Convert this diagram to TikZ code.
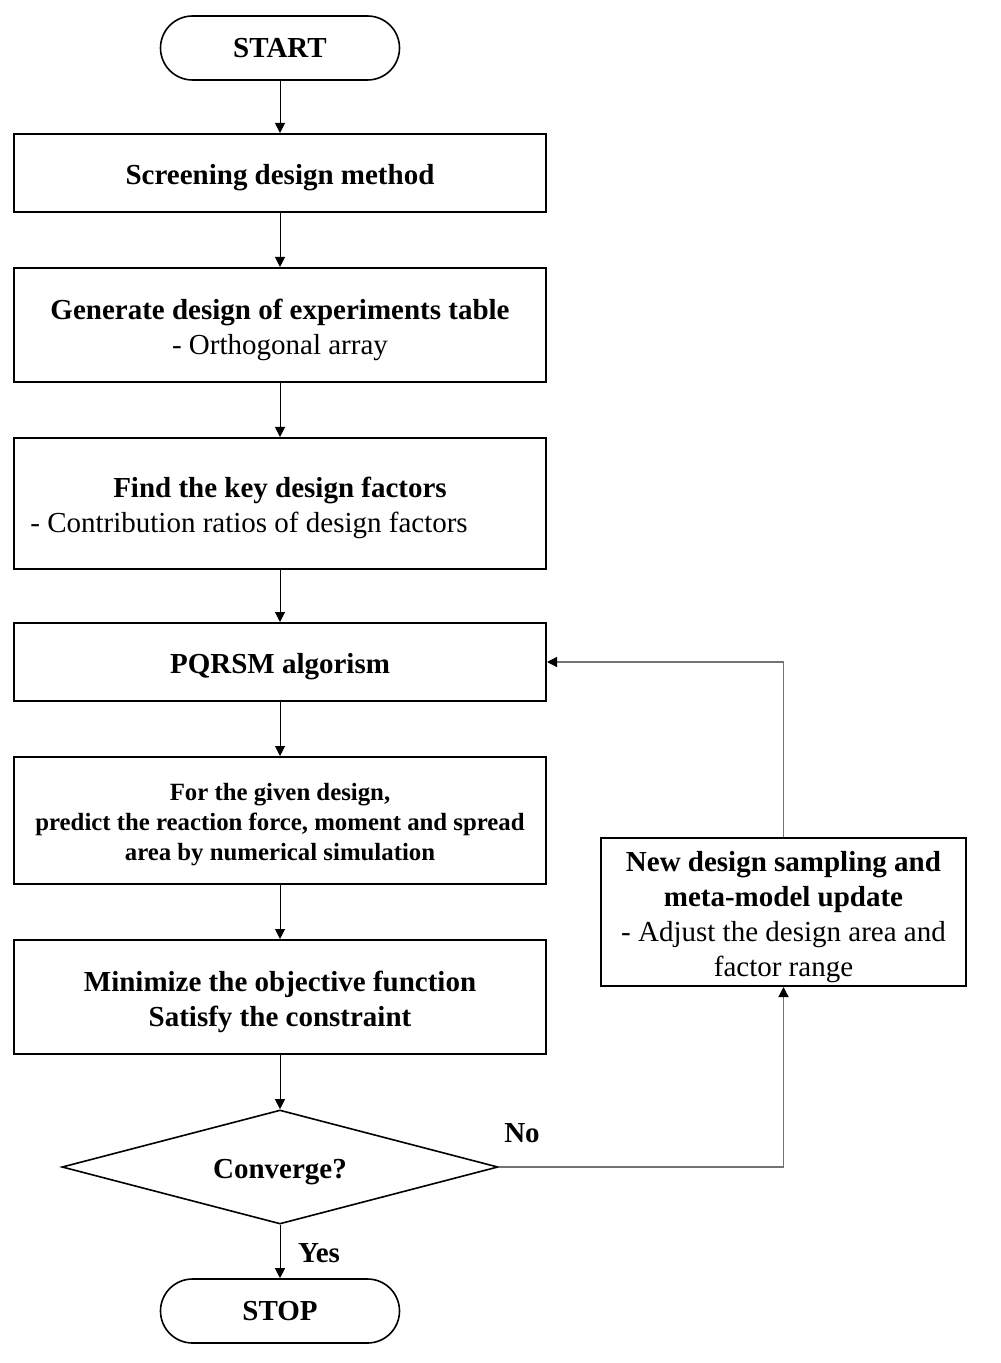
\documentclass[tikz,border=0pt]{standalone}
\usepackage{fontspec}
\setmainfont{Liberation Serif}
\usetikzlibrary{arrows.meta,shapes.geometric}
\begin{document}
\begin{tikzpicture}[x=0.5pt,y=-0.5pt,
  every node/.style={font=\fontsize{14.5pt}{17.5pt}\selectfont, inner sep=0pt},
  box/.style={draw, line width=1pt, minimum width=266pt},
  txt/.style={align=center, yshift=-2.5pt},
  term/.style={draw, line width=0.8pt, rounded corners=16pt, minimum width=119.5pt, minimum height=32pt, font=\fontsize{14.5pt}{17.5pt}\selectfont\bfseries},
  dia/.style={draw, diamond, aspect=3.82, line width=0.8pt, minimum width=218pt, minimum height=57pt},
  arr/.style={line width=0.5pt, -{Triangle[length=5pt,width=5pt]}},
  back/.style={line width=0.6pt, draw=black!55, -{Triangle[length=5pt,width=5pt,fill=black,color=black]}},
  lbl/.style={font=\fontsize{14.5pt}{17.5pt}\selectfont\bfseries}
]
\useasboundingbox (0,0) rectangle (1000,1363);

\node[term] (start) at (280,48) {START};

\node[box, minimum height=39pt] (b1) at (280,173) {};
\node[txt] (t1) at (b1.center) {\textbf{Screening design method}};

\node[box, minimum height=57pt] (b2) at (280,325) {};
\node[txt] (t2) at (b2.center) {\textbf{Generate design of experiments table}\\- Orthogonal array};

\node[box, minimum height=65.5pt] (b3) at (280,503.5) {};
\node[lbl, yshift=-1.5pt] (b3a) at (280,487) {Find the key design factors};
\node[anchor=west, yshift=-1.5pt] (b3b) at (30,522) {- Contribution ratios of design factors};

\node[box, minimum height=39pt] (b4) at (280,662) {};
\node[txt] (t4) at (b4.center) {\textbf{PQRSM algorism}};

\node[box, minimum height=63.5pt] (b5) at (280,820.5) {};
\node[txt, font=\fontsize{12.4pt}{15pt}\selectfont\bfseries] (t5) at ([yshift=0.25pt]b5.center) {For the given design,\\predict the reaction force, moment and spread\\area by numerical simulation};

\node[box, minimum height=57pt] (b6) at (280,997) {};
\node[txt] (t6) at (b6.center) {\textbf{Minimize the objective function}\\\textbf{Satisfy the constraint}};

\node[dia] (d) at (280,1167) {};
\node[txt, lbl] (td) at (d.center) {Converge?};

\node[term] (stop) at (280,1311) {STOP};

\node[box, minimum width=182.5pt, minimum height=74pt] (nb) at (783.5,912) {};
\node[txt] (tn) at ([yshift=-0.25pt]nb.center) {\textbf{New design sampling and}\\\textbf{meta-model update}\\- Adjust the design area and\\factor range};

\node[lbl] (no) at (522,1133) {No};
\node[lbl] (yes) at (319,1253) {Yes};

\draw[arr] (start) -- (b1);
\draw[arr] (b1) -- (b2);
\draw[arr] (b2) -- (b3);
\draw[arr] (b3) -- (b4);
\draw[arr] (b4) -- (b5);
\draw[arr] (b5) -- (b6);
\draw[arr] (b6) -- (d);
\draw[arr] (d) -- (stop);
\draw[back] (d.east) -| (nb.south);
\draw[back] (nb.north) |- (b4.east);
\end{tikzpicture}
\end{document}
